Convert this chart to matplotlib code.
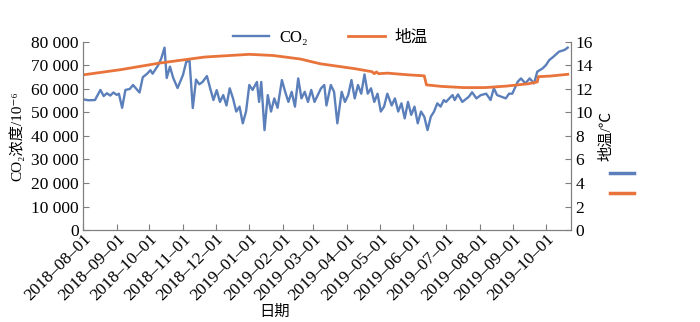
import numpy as np
import pandas as pd
import matplotlib
matplotlib.use('Agg')
import matplotlib.pyplot as plt
from matplotlib.lines import Line2D
import matplotlib.ticker as ticker

plt.rcParams['font.family'] = ['Liberation Serif', 'Noto Sans CJK SC', 'DejaVu Sans']

start = pd.Timestamp('2018-08-01')

# CO2 浓度 (10^-6), 读图得到的点: 天数 / 数值(千)
co2_day = [0, 5, 11, 16, 19, 22, 25, 28, 31, 33, 36, 39, 43, 46, 52, 55, 59, 62, 64, 69,
           72, 75, 77, 80, 83, 87, 92, 95, 98, 101, 104, 107, 110, 114, 117, 120, 123, 126, 129, 132,
           135, 138, 141, 144, 147, 150, 153, 156, 160, 162, 164, 167, 170, 173, 176, 179, 183, 186, 189, 192,
           195, 198, 201, 204, 207, 210, 213, 216, 219, 222, 224, 228, 231, 234, 238, 241, 244, 247, 250, 253,
           256, 259, 262, 265, 268, 271, 274, 277, 280, 284, 287, 290, 293, 296, 299, 302, 305, 308, 311, 314,
           317, 320, 323, 326, 329, 332, 334, 337, 340, 342, 345, 349, 355, 358, 362, 366, 371, 375, 378, 381,
           385, 389, 392, 395, 400, 403, 407, 411, 415, 418, 423, 426, 429, 433, 438, 443, 446]
co2_val = [55.6, 55.2, 55.3, 59.6, 57.0, 58.2, 57.2, 58.5, 57.5, 58.0, 52.0, 59.6, 60.0, 61.7, 58.5, 65.0, 66.5, 68.0, 66.5, 70.0,
           73.0, 77.6, 64.7, 69.5, 64.7, 60.4, 66.0, 71.6, 72.0, 51.9, 64.0, 62.0, 63.0, 65.5, 60.3, 55.3, 59.5, 54.5, 57.4, 53.0,
           60.3, 56.0, 50.4, 52.5, 45.4, 50.4, 61.7, 59.6, 63.0, 54.5, 63.0, 42.5, 57.4, 50.4, 56.0, 52.0, 63.8, 58.8, 54.5, 58.8,
           52.5, 64.5, 56.0, 58.8, 54.5, 59.6, 54.5, 57.4, 60.3, 61.7, 53.0, 61.7, 58.8, 45.4, 58.8, 54.5, 57.4, 63.8, 56.0, 61.7,
           58.0, 66.2, 58.0, 60.3, 54.5, 58.0, 50.4, 52.5, 58.0, 53.0, 56.0, 50.4, 53.9, 47.5, 54.5, 49.0, 52.5, 45.4, 50.4, 48.2,
           42.5, 48.2, 50.4, 53.9, 52.5, 55.3, 54.5, 56.0, 57.4, 55.3, 57.7, 54.5, 56.7, 58.6, 56.0, 57.4, 58.0, 55.3, 60.3, 57.4,
           56.7, 56.0, 58.0, 58.0, 63.1, 64.5, 62.4, 64.5, 62.4, 67.4, 68.8, 70.2, 72.3, 73.8, 75.9, 76.6, 77.6]

# 地温 (℃)
temp_day = [0, 35, 70, 112, 153, 175, 200, 218, 250, 266, 268, 270, 272, 280, 300, 314, 316, 330, 350, 370,
            390, 410, 418, 419, 430, 446]
temp_val = [13.2, 13.65, 14.2, 14.72, 14.95, 14.85, 14.55, 14.15, 13.73, 13.47, 13.3, 13.45, 13.3, 13.35, 13.2, 13.12, 12.35, 12.22, 12.12, 12.12,
            12.25, 12.45, 12.6, 13.05, 13.1, 13.25]

co2_x = [start + pd.Timedelta(days=d) for d in co2_day]
temp_x = [start + pd.Timedelta(days=d) for d in temp_day]
co2_y = [v * 1000 for v in co2_val]

blue = '#5b7fba'
orange = '#e8743b'
gray = '#7f7f7f'

fig = plt.figure(figsize=(7, 3.22), dpi=100)
ax = fig.add_axes([0.1186, 0.2857, 0.6971, 0.5839])
ax2 = ax.twinx()

l1, = ax.plot(co2_x, co2_y, color=blue, lw=1.7, label='CO₂')
l2, = ax2.plot(temp_x, temp_val, color=orange, lw=2.0, label='地温')

ax.set_ylim(0, 80000)
ax.set_yticks(np.arange(0, 80001, 10000))
ax.yaxis.set_major_formatter(ticker.FuncFormatter(lambda v, p: '{:,}'.format(int(v)).replace(',', ' ')))
ax2.set_ylim(0, 16)
ax2.set_yticks(np.arange(0, 17, 2))

ax.set_xlim(start, pd.Timestamp('2019-10-24'))
months = pd.date_range('2018-08-01', '2019-10-01', freq='MS')
ax.set_xticks(months)
ax.set_xticklabels([m.strftime('%Y–%m–%d') for m in months], rotation=45, ha='right',
                   rotation_mode='anchor', fontsize=12.5)

for a in (ax, ax2):
    a.spines['top'].set_visible(False)
    for s in ('left', 'right', 'bottom'):
        a.spines[s].set_color(gray)
    a.tick_params(direction='in', length=4, color=gray, labelsize=12.5, pad=3)
ax.tick_params(axis='x', pad=1, labelsize=12.5)

ax.set_ylabel('CO₂浓度/10⁻⁶', fontsize=11, labelpad=5)
ax2.set_ylabel('地温/℃', fontsize=11, labelpad=5)
ax.set_xlabel('日期', fontsize=11)
ax.xaxis.set_label_coords(0.393, -0.40)

fig.legend(handles=[l1, l2], loc='center', bbox_to_anchor=(0.472, 0.882), ncol=2, frameon=False,
           fontsize=12, handlelength=2.2, columnspacing=2.4, handletextpad=0.6)

h1 = Line2D([], [], color=blue, lw=2.5)
h2 = Line2D([], [], color=orange, lw=2.5)
fig.legend(handles=[h1, h2], labels=['', ''], loc='center', bbox_to_anchor=(0.889, 0.427), frameon=False,
           handlelength=1.75, handletextpad=0, labelspacing=0.5)

fig.savefig('out.png', dpi=100)
